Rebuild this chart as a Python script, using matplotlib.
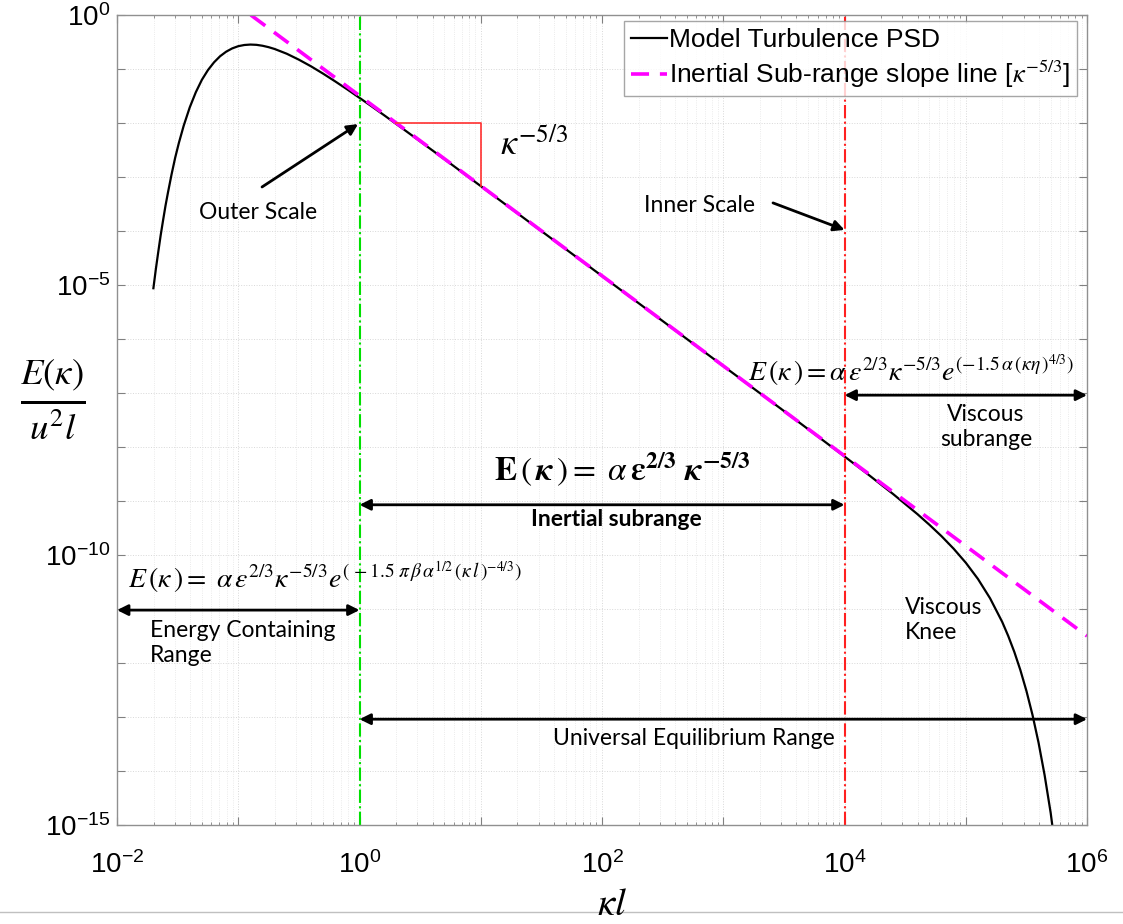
import numpy as np
import matplotlib.pyplot as plt
from matplotlib.ticker import LogLocator, FuncFormatter, NullFormatter
from matplotlib.lines import Line2D

plt.rcParams['mathtext.fontset'] = 'stix'
plt.rcParams['font.family'] = ['Liberation Sans', 'DejaVu Sans']

# model turbulence PSD (log10 of kl and of normalised E)
log_kl = [-1.70, -1.68, -1.66, -1.64, -1.62, -1.60, -1.58, -1.55, -1.52,
          -1.49, -1.45, -1.40, -1.35, -1.30, -1.25, -1.20, -1.15, -1.10,
          -1.05, -1.00, -0.95, -0.90, -0.85, -0.80, -0.75, -0.70, -0.60,
          -0.50, -0.40, -0.30, -0.20, -0.10, 0.0, 0.1, 0.2, 0.35, 0.5,
          0.75, 1.0, 2.0, 3.0, 3.5, 4.0, 4.2, 4.4, 4.6, 4.7, 4.8, 4.9, 5.0,
          5.1, 5.2, 5.3, 5.35, 5.4, 5.45, 5.5, 5.55, 5.6, 5.65, 5.7, 5.72]
log_E = [-5.06, -4.71, -4.39, -4.08, -3.80, -3.53, -3.29, -2.95, -2.64,
         -2.37, -2.05, -1.71, -1.43, -1.20, -1.02, -0.877, -0.764, -0.680,
         -0.619, -0.578, -0.556, -0.548, -0.553, -0.570, -0.596, -0.630, -0.718,
         -0.828, -0.951, -1.087, -1.231, -1.380, -1.535, -1.692, -1.852, -2.095, -2.341,
         -2.753, -3.169, -4.834, -6.500, -7.333, -8.176, -8.518, -8.870, -9.241, -9.440,
         -9.652, -9.884, -10.143, -10.443, -10.801, -11.238, -11.500, -11.794, -12.131,
         -12.517, -12.961, -13.476, -14.077, -14.776, -15.12]

# inertial sub-range slope line, kappa^-5/3
slope_log_kl = [-0.897, 6.0]
slope_log_E = [0.0, -11.5]

# slope triangle
tri_kl = [2.0, 10.0, 10.0]
tri_E = [1e-2, 1e-2, 6.8e-4]

outer_scale = 1.0
inner_scale = 1e4
kl_max = 1e6
kl_min = 1e-2

kl = 10 ** np.array(log_kl)
E = 10 ** np.array(log_E)

fig = plt.figure(figsize=(11.23, 9.24), dpi=100)
ax = fig.add_axes([0.1042, 0.1071, 0.8638, 0.8767])

ax.loglog(kl, E, color='k', lw=1.6, label='Model Turbulence PSD')
ax.loglog(10 ** np.array(slope_log_kl), 10 ** np.array(slope_log_E),
          color='#ff00ff', lw=2.6, dashes=(5, 3),
          label=r'Inertial Sub-range slope line [$\kappa^{-5/3}$]')
ax.axvline(outer_scale, color='#00e000', lw=1.5, ls='-.')
ax.axvline(inner_scale, color='#ff2020', lw=1.5, ls='-.')
ax.plot(tri_kl, tri_E, color='#ff3030', lw=1.2)

ax.set_xlim(1e-2, 1e6)
ax.set_ylim(1e-15, 1e0)

# ticks and grid
ax.xaxis.set_major_locator(LogLocator(base=10, numticks=20))
ax.xaxis.set_minor_locator(LogLocator(base=10, subs=np.arange(2, 10), numticks=200))
ax.yaxis.set_major_locator(LogLocator(base=10, numticks=30))
ax.yaxis.set_minor_locator(LogLocator(base=10, subs=[], numticks=30))
ax.xaxis.set_major_formatter(FuncFormatter(
    lambda v, p: r'$\mathdefault{10^{%d}}$' % round(np.log10(v)) if round(np.log10(v)) % 2 == 0 else ''))
ax.yaxis.set_major_formatter(FuncFormatter(
    lambda v, p: r'$\mathdefault{10^{%d}}$' % round(np.log10(v)) if round(np.log10(v)) % 5 == 0 else ''))
ax.xaxis.set_minor_formatter(NullFormatter())
ax.tick_params(which='both', direction='in', top=True, right=True, color='#808080')
ax.tick_params(which='major', length=6, labelsize=20)
ax.tick_params(axis='x', which='major', pad=19)
ax.tick_params(axis='y', which='major', pad=5)
for lab in ax.get_xticklabels() + ax.get_yticklabels():
    lab.set_family(['Liberation Sans Narrow', 'Liberation Sans'])
ax.grid(True, which='major', color='#d8d8d8', lw=0.7, ls=':')
ax.grid(True, which='minor', axis='x', color='#e4e4e4', lw=0.6, ls=':')
for s in ax.spines.values():
    s.set_color('#909090')
    s.set_linewidth(1.0)

leg = ax.legend(loc='upper right', bbox_to_anchor=(0.99, 0.992), fontsize=19,
                fancybox=False, edgecolor='#909090', handlelength=1.35,
                handletextpad=0.1, borderpad=0.25, labelspacing=0.25, borderaxespad=0)
leg.get_frame().set_linewidth(1.0)

lab_font = dict(family=['Lato', 'DejaVu Sans'], fontsize=16.5, color='k')
arrow_dbl = dict(arrowstyle='<|-|>', color='k', lw=2, mutation_scale=16, shrinkA=0, shrinkB=0)
arrow_one = dict(arrowstyle='-|>', color='k', lw=2, mutation_scale=16, shrinkA=0, shrinkB=0)

# slope label
ax.text(10 ** 1.16, 10 ** -2.42, r'$\kappa^{-5/3}$', fontsize=26, va='center', ha='left')

# scale arrows
ax.annotate('', xy=(10 ** -0.012, 10 ** -2.02), xytext=(10 ** -0.804, 10 ** -3.185),
            arrowprops=arrow_one)
ax.text(10 ** -0.837, 10 ** -3.65, 'Outer Scale', ha='center', va='center', **lab_font)
ax.annotate('', xy=(10 ** 4.0, 10 ** -3.98), xytext=(10 ** 3.41, 10 ** -3.48),
            arrowprops=arrow_one)
ax.text(10 ** 2.80, 10 ** -3.52, 'Inner Scale', ha='center', va='center', **lab_font)

# viscous subrange
ax.text(10 ** 3.2, 10 ** -6.6,
        r'$E\,(\kappa\,) = \alpha\,\varepsilon^{2/3}\kappa^{-5/3}e^{(-1.5\,\alpha\,(\kappa\eta\,)^{4/3})}$',
        fontsize=20, ha='left', va='center')
ax.annotate('', xy=(inner_scale, 10 ** -7.04), xytext=(kl_max, 10 ** -7.04), arrowprops=arrow_dbl)
ax.text(10 ** 5.167, 10 ** -7.63, 'Viscous\nsubrange', ha='center', va='center',
        linespacing=1.25, **lab_font)

# inertial subrange
ax.text(10 ** 2.17, 10 ** -8.43,
        r'$\mathbf{E}\,(\,\boldsymbol{\kappa}\,)= \ \alpha\,\boldsymbol{\varepsilon}^{\mathbf{2/3}}\ \boldsymbol{\kappa}^{\mathbf{-5/3}}$',
        fontsize=24, ha='center', va='center')
ax.annotate('', xy=(outer_scale, 10 ** -9.07), xytext=(inner_scale, 10 ** -9.07), arrowprops=arrow_dbl)
ax.text(10 ** 2.115, 10 ** -9.35, 'Inertial subrange', ha='center', va='center',
        fontweight='bold', **lab_font)

# energy containing range
ax.text(10 ** -1.91, 10 ** -10.43,
        r'$E\,(\kappa\,) = \ \alpha\,\varepsilon^{2/3}\kappa^{-5/3}e^{(\,-1.5\;\pi\,\beta\,\alpha^{1/2}\,(\kappa\, l\,)^{-4/3})}$',
        fontsize=20, ha='left', va='center')
ax.annotate('', xy=(kl_min, 10 ** -11.02), xytext=(outer_scale, 10 ** -11.02), arrowprops=arrow_dbl)
ax.text(10 ** -1.73, 10 ** -11.63, 'Energy Containing\nRange', ha='left', va='center',
        linespacing=1.25, **lab_font)

# viscous knee and universal range
ax.text(10 ** 4.5, 10 ** -11.2, 'Viscous\nKnee', ha='left', va='center',
        linespacing=1.25, **lab_font)
ax.annotate('', xy=(outer_scale, 10 ** -13.04), xytext=(kl_max, 10 ** -13.04), arrowprops=arrow_dbl)
ax.text(10 ** 2.76, 10 ** -13.39, 'Universal Equilibrium Range', ha='center', va='center', **lab_font)

# axis labels
fig.text(0.047, 0.567, r'$\frac{E(\kappa)}{u^2 l}$', fontsize=38, ha='center', va='center')
fig.text(0.545, 0.021, r'$\kappa l$', fontsize=28, ha='center', va='center')
fig.add_artist(Line2D([0.0, 1.0], [0.013, 0.013], color='#c0c0c0', lw=1.0))

fig.savefig('out.png', dpi=100)
